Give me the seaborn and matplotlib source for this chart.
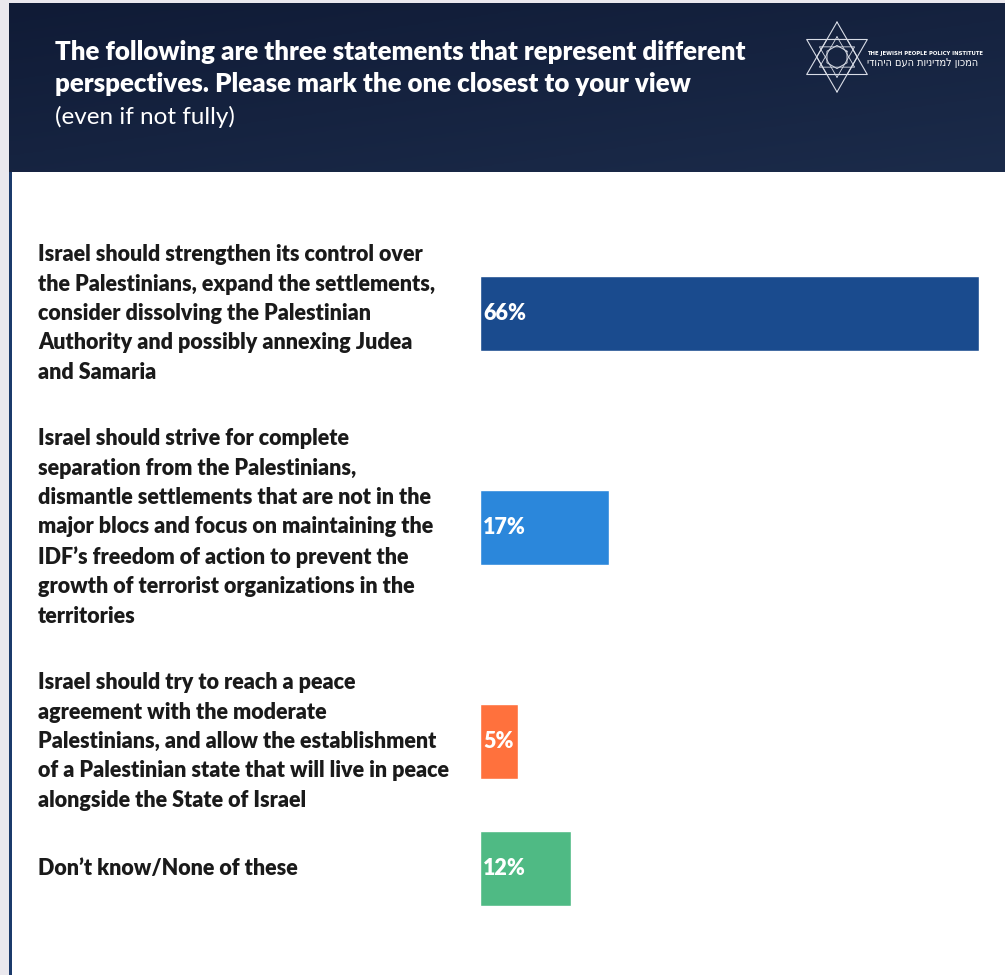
import numpy as np
import pandas as pd
import matplotlib
matplotlib.use("Agg")
import matplotlib.pyplot as plt
import seaborn as sns
from matplotlib.lines import Line2D
from matplotlib.patches import Rectangle

# ---------------- data ----------------
statements = [
    "Israel should strengthen its control over\nthe Palestinians, expand the settlements,\nconsider dissolving the Palestinian\nAuthority and possibly annexing Judea\nand Samaria",
    "Israel should strive for complete\nseparation from the Palestinians,\ndismantle settlements that are not in the\nmajor blocs and focus on maintaining the\nIDF\u2019s freedom of action to prevent the\ngrowth of terrorist organizations in the\nterritories",
    "Israel should try to reach a peace\nagreement with the moderate\nPalestinians, and allow the establishment\nof a Palestinian state that will live in peace\nalongside the State of Israel",
    "Don\u2019t know/None of these",
]
values = [66, 17, 5, 12]
bar_colors = ["#1A4B8E", "#2B87DB", "#FF713D", "#4FBA84"]
title_lines = ["The following are three statements that represent different",
               "perspectives. Please mark the one closest to your view"]
subtitle_text = "(even if not fully)"
logo_en = "THE JEWISH PEOPLE POLICY INSTITUTE"
logo_he = "המכון למדיניות העם היהודי"

# ---------------- layout (pixels) ----------------
W, H = 1005, 975
DPI = 100
LINE_PX = 29
GAP_PX = 40
FIRST_TOP = 241
BAR_PX = 75
BAR_X0 = 480
BAR_X_66 = 979

fig = plt.figure(figsize=(W / DPI, H / DPI), dpi=DPI)
fig.patch.set_facecolor("#EAE8EE")

def fx(px):
    return px / W

def fy(py):
    return 1 - py / H

# white panel
fig.add_artist(Rectangle((fx(9), 0), 1 - fx(9), fy(172), transform=fig.transFigure,
                         facecolor="white", edgecolor="none", zorder=0))
# left navy border line
fig.add_artist(Rectangle((fx(9), 0), fx(3), fy(172), transform=fig.transFigure,
                         facecolor="#1B3A6B", edgecolor="none", zorder=1))

# header gradient
hax = fig.add_axes([fx(9), fy(172), 1 - fx(9), (172 - 3) / H], zorder=2)
gx = np.linspace(0, 1, 200)[None, :]
gy = np.linspace(0, 1, 60)[:, None]
g = 0.55 * gy + 0.45 * gx
c0 = np.array(matplotlib.colors.to_rgb("#101B36"))
c1 = np.array(matplotlib.colors.to_rgb("#1B2B4A"))
img = c0[None, None, :] * (1 - g[..., None]) + c1[None, None, :] * g[..., None]
hax.imshow(img, aspect="auto", extent=(0, 1, 1, 0))
hax.set_axis_off()

# ---------------- bars ----------------
sns.set_theme(style="white")
plt.rcParams["font.family"] = ["Lato", "DejaVu Sans"]

n_lines = [s.count("\n") + 1 for s in statements]
centers = []
top = FIRST_TOP
for n in n_lines:
    h = n * LINE_PX
    centers.append(top + h / 2)
    top += h + GAP_PX

df = pd.DataFrame({"statement": statements, "value": values, "ypos": centers})

ax_right = W
ax = fig.add_axes([fx(BAR_X0), 0, fx(ax_right - BAR_X0), 1], zorder=1)
ax.patch.set_alpha(0)
min_gap = np.min(np.diff(sorted(centers)))
sns.barplot(data=df, x="value", y="ypos", hue="statement", palette=bar_colors,
            orient="h", native_scale=True, width=BAR_PX / min_gap, legend=False,
            saturation=1, ax=ax)
ax.set_xlim(0, values[0] * (ax_right - BAR_X0) / (BAR_X_66 - BAR_X0))
ax.set_ylim(H, 0)
ax.set_axis_off()

for v, yc in zip(values, centers):
    ax.annotate(f"{v}%", xy=(0, yc), xytext=(3, 0), textcoords="offset pixels",
                ha="left", va="center", color="white", fontsize=15.5,
                fontweight="heavy")

# statement labels
for s, yc in zip(statements, centers):
    fig.text(fx(38), fy(yc), s, ha="left", va="center", fontsize=15.5,
             fontweight="heavy", color="#1A1A1A", linespacing=1.49, zorder=3)

# ---------------- header texts ----------------
for i, line in enumerate(title_lines):
    fig.text(fx(55), fy(52 + 32 * i), line, ha="left", va="center", fontsize=18.6,
             fontweight="heavy", color="white", zorder=5)
fig.text(fx(55), fy(117), subtitle_text, ha="left", va="center", fontsize=17.5,
         fontweight="normal", color="white", zorder=5)

# ---------------- logo ----------------
lc = "#D8DCE6"
cx, cy = 837, 57
R = 35
for up in (True, False):
    pts = []
    for k in range(4):
        ang = np.deg2rad((90 if up else -90) + 120 * k)
        pts.append((cx + R * np.cos(ang), cy - R * np.sin(ang)))
    fig.add_artist(Line2D([fx(a) for a, b in pts], [fy(b) for a, b in pts],
                          transform=fig.transFigure, color=lc, lw=0.8, zorder=6))
for rr, rot in ((R * 0.58, 0), (R * 0.33, 30)):
    angs = np.deg2rad(np.arange(0, 361, 60) + rot)
    fig.add_artist(Line2D([fx(cx + rr * np.cos(a)) for a in angs],
                          [fy(cy - rr * np.sin(a)) for a in angs],
                          transform=fig.transFigure, color=lc, lw=0.7, zorder=6))
for up in (True, False):
    rr = R * 0.58
    pts = []
    for k in range(4):
        ang = np.deg2rad((90 if up else -90) + 120 * k)
        pts.append((cx + rr * np.cos(ang), cy - rr * np.sin(ang)))
    fig.add_artist(Line2D([fx(a) for a, b in pts], [fy(b) for a, b in pts],
                          transform=fig.transFigure, color=lc, lw=0.6, zorder=6))

fig.text(fx(867), fy(53), logo_en, ha="left", va="center", fontsize=4.2,
         color="white", fontstretch="condensed", fontweight="bold",
         family=["DejaVu Sans"], zorder=6)
fig.text(fx(867), fy(63), logo_he[::-1], ha="left", va="center", fontsize=7.8,
         color="white", fontstretch="condensed",
         family=["DejaVu Sans"], zorder=6)

fig.savefig("out.png", dpi=DPI, facecolor=fig.get_facecolor())
